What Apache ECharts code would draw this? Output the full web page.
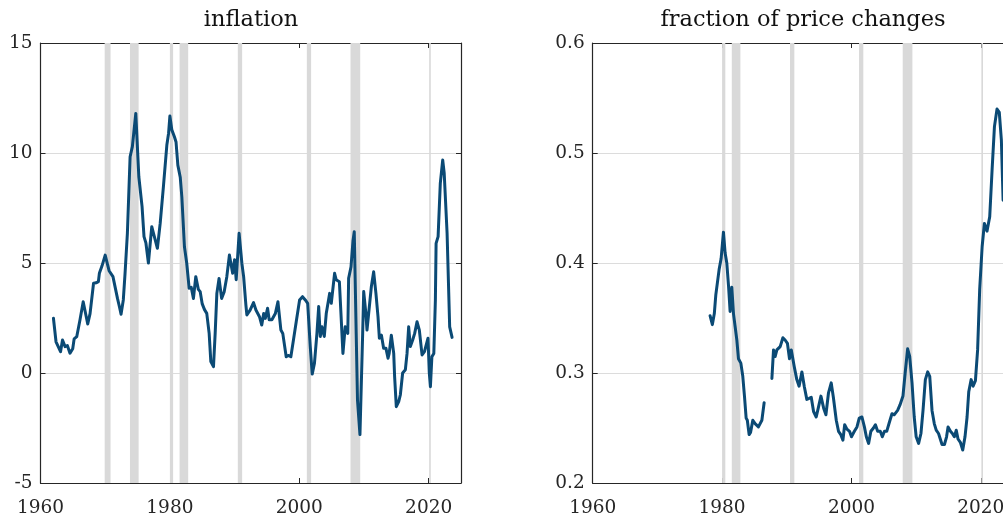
<!DOCTYPE html>
<html>
<head>
<meta charset="utf-8">
<script src="https://cdn.jsdelivr.net/npm/echarts@6/dist/echarts.min.js"></script>
<style>
html,body{margin:0;padding:0;background:#fff;}
#chart{width:1003px;height:515px;}
</style>
</head>
<body>
<div id="chart"></div>
<script>
// ---------- data ----------
const panelTitles = ['inflation', 'fraction of price changes'];
const xTickLabels = ['1960', '1980', '2000', '2020'];

const inflationDates = [1962.0,1962.4,1962.6,1963.1,1963.4,1963.8,1964.15,1964.56,1964.98,1965.2,1965.6,1966.1,1966.6,1966.85,1967.3,1967.66,1968.2,1968.6,1968.95,1969.1,1969.5,1970.0,1970.25,1970.6,1970.9,1971.2,1971.5,1971.9,1972.2,1972.45,1972.8,1973.07,1973.43,1973.85,1974.2,1974.73,1975.2,1975.7,1976.0,1976.3,1976.68,1977.2,1977.6,1978.07,1978.5,1979.0,1979.53,1979.8,1980.0,1980.3,1980.7,1980.95,1981.23,1981.6,1981.85,1982.25,1982.6,1982.98,1983.3,1983.64,1984.0,1984.4,1984.68,1985.0,1985.35,1985.7,1986.07,1986.33,1986.74,1987.0,1987.26,1987.6,1988.0,1988.4,1988.8,1989.2,1989.7,1990.0,1990.25,1990.7,1991.13,1991.4,1991.75,1991.9,1992.4,1992.93,1993.3,1993.85,1994.2,1994.5,1994.75,1995.1,1995.35,1995.77,1996.3,1996.7,1997.16,1997.45,1997.98,1998.3,1998.7,1999.1,1999.53,2000.05,2000.5,2000.93,2001.3,2001.7,2002.0,2002.35,2002.73,2003.0,2003.25,2003.5,2003.87,2004.17,2004.4,2004.7,2004.95,2005.46,2005.7,2005.98,2006.2,2006.75,2007.1,2007.5,2007.63,2008.0,2008.3,2008.5,2008.8,2009.0,2009.38,2009.8,2009.96,2010.3,2010.47,2010.7,2011.14,2011.5,2011.85,2012.17,2012.38,2012.7,2013.04,2013.4,2013.72,2013.9,2014.23,2014.6,2014.74,2015.0,2015.37,2015.62,2015.98,2016.4,2016.66,2016.91,2017.17,2017.53,2017.84,2018.2,2018.56,2018.98,2019.35,2019.6,2019.9,2020.1,2020.27,2020.5,2020.8,2021.04,2021.15,2021.46,2021.8,2022.17,2022.4,2022.85,2023.25,2023.62];
const inflationValues = [2.49,1.42,1.35,0.97,1.5,1.2,1.25,0.9,1.1,1.55,1.65,2.41,3.24,3.24,2.23,2.7,4.08,4.1,4.15,4.53,4.86,5.36,5.06,4.65,4.6,4.38,4.35,3.39,3.01,2.67,3.32,4.53,6.35,9.83,10.29,11.8,8.92,7.56,6.2,5.9,5.0,6.65,6.2,5.67,6.8,8.47,10.36,10.9,11.68,11.05,10.74,10.5,9.45,8.9,8.0,5.74,5.0,3.85,3.9,3.39,4.38,3.8,3.7,3.14,2.88,2.71,1.8,0.52,0.29,1.8,3.62,4.3,3.39,3.7,4.38,5.36,4.53,5.15,4.24,6.35,4.98,4.38,3.09,2.64,2.86,3.2,2.86,2.56,2.18,2.7,2.48,2.94,2.42,2.42,2.7,3.24,1.95,1.8,0.74,0.8,0.74,1.5,2.33,3.32,3.47,3.32,3.17,1.2,-0.05,0.45,1.8,3.02,1.66,2.1,1.66,2.7,2.65,3.62,3.17,4.53,4.24,4.15,4.15,0.89,2.1,1.8,4.3,4.83,6.0,6.42,1.8,-1.23,-2.8,1.8,3.7,2.7,1.95,1.88,3.92,4.6,3.62,2.56,1.58,1.72,1.12,1.12,0.67,0.89,1.72,0.89,-0.17,-1.53,-1.3,-1.0,0.0,0.15,0.89,2.1,1.2,1.5,1.8,2.33,1.95,0.82,0.97,0.89,1.58,0.0,-0.62,0.74,0.89,3.32,5.89,6.2,8.62,9.68,9.1,6.35,2.1,1.62];

const fractionDates = [1978.15,1978.5,1978.8,1979.03,1979.3,1979.54,1979.85,1980.21,1980.47,1980.73,1981.0,1981.24,1981.5,1981.76,1982.02,1982.28,1982.53,1982.9,1983.2,1983.46,1983.72,1983.9,1984.18,1984.4,1984.75,1985.1,1985.62,1985.9,1986.15,1986.5,1987.1,1987.7,1987.95,1988.2,1988.47,1988.7,1988.98,1989.4,1989.74,1990.1,1990.42,1990.7,1991.15,1991.55,1991.9,1992.34,1992.7,1993.1,1993.46,1993.78,1994.14,1994.55,1994.9,1995.28,1995.7,1996.05,1996.45,1996.87,1997.2,1997.65,1998.0,1998.35,1998.68,1998.95,1999.3,1999.7,2000.0,2000.45,2000.85,2001.2,2001.62,2002.0,2002.3,2002.65,2003.0,2003.4,2003.7,2004.05,2004.45,2004.77,2005.1,2005.45,2005.85,2006.26,2006.6,2007.13,2007.5,2007.96,2008.3,2008.68,2009.0,2009.36,2009.7,2010.0,2010.38,2010.74,2011.06,2011.42,2011.78,2012.1,2012.45,2012.8,2013.1,2013.46,2013.72,2014.0,2014.37,2014.7,2014.93,2015.3,2015.6,2015.9,2016.2,2016.47,2016.83,2017.2,2017.55,2017.87,2018.13,2018.5,2018.8,2019.16,2019.5,2019.82,2020.2,2020.55,2020.95,2021.37,2021.74,2022.1,2022.5,2022.85,2023.17,2023.44];
const fractionValues = [0.352,0.344,0.354,0.371,0.370,0.394,0.404,0.428,0.409,0.400,0.379,0.356,0.378,0.354,0.342,0.330,0.313,0.309,0.297,0.279,0.259,0.257,0.244,0.246,0.257,0.254,0.251,0.250,0.257,0.273,null,0.295,0.321,0.315,0.321,0.320,0.324,0.332,0.330,0.327,0.313,0.321,0.306,0.294,0.288,0.301,0.288,0.276,0.277,0.278,0.265,0.260,0.269,0.279,0.268,0.262,0.282,0.291,0.278,0.257,0.247,0.244,0.239,0.253,0.249,0.247,0.242,0.247,0.251,0.259,0.260,0.251,0.242,0.236,0.247,0.250,0.253,0.247,0.247,0.242,0.247,0.247,0.255,0.263,0.262,0.266,0.271,0.279,0.300,0.322,0.315,0.291,0.260,0.242,0.236,0.245,0.266,0.294,0.301,0.297,0.266,0.254,0.248,0.245,0.244,0.235,0.235,0.242,0.251,0.247,0.245,0.242,0.248,0.240,0.237,0.230,0.242,0.260,0.283,0.294,0.288,0.293,0.321,0.376,0.415,0.436,0.429,0.442,0.485,0.524,0.540,0.537,0.512,0.457];

const recessionStarts = [1969.92,1973.83,1980.0,1981.5,1990.5,2001.17,2007.92,2020.08];
const recessionEnds   = [1970.83,1975.17,1980.5,1982.83,1991.17,2001.83,2009.42,2020.33];

// ---------- build ----------
const zip = (a, b) => a.map((v, i) => [v, b[i]]);
const inflationData = zip(inflationDates, inflationValues);
const fractionData = zip(fractionDates, fractionValues);
const bandsAll = zip(recessionStarts, recessionEnds);
const bandsLeft = bandsAll.filter(b => b[0] >= inflationDates[0]);
const bandsRight = bandsAll.filter(b => b[0] >= fractionDates[0]);

const FONT = 'DejaVu Serif';
const TXT = '#262626';
const LINE = '#0b4a75';
const BAND = '#d9d9d9';

function renderBand(params, api) {
  const cs = params.coordSys;
  const p0 = api.coord([api.value(0), api.value(2)]);
  const p1 = api.coord([api.value(1), api.value(2)]);
  return {
    type: 'rect',
    shape: { x: p0[0], y: cs.y, width: Math.max(p1[0] - p0[0], 1), height: cs.height },
    style: { fill: BAND }
  };
}

function xAx(gridIndex, pos) {
  return {
    type: 'value', gridIndex, position: pos, min: 1960, max: 2025, interval: 20,
    axisLine: { show: true, onZero: false, lineStyle: { color: TXT, width: 1.2 } },
    axisTick: { show: true, inside: true, length: 5, lineStyle: { color: TXT, width: 1 } },
    axisLabel: {
      show: pos === 'bottom', fontFamily: FONT, fontSize: 18.5, color: TXT, margin: 16,
      formatter: v => xTickLabels[Math.round((v - 1960) / 20)] || ''
    },
    splitLine: { show: false }
  };
}
function yAx(gridIndex, pos, min, max, interval) {
  return {
    type: 'value', gridIndex, position: pos, min, max, interval,
    axisLine: { show: true, onZero: false, lineStyle: { color: TXT, width: 1.2 } },
    axisTick: { show: true, inside: true, length: 5, lineStyle: { color: TXT, width: 1 } },
    axisLabel: { show: pos === 'left', fontFamily: FONT, fontSize: 18.5, color: TXT, margin: 8 },
    splitLine: { show: pos === 'left', lineStyle: { color: '#dcdcdc', width: 1 } }
  };
}

const titleStyle = { fontFamily: FONT, fontSize: 22.5, fontWeight: 'normal', color: '#111' };

const chart = echarts.init(document.getElementById('chart'), null, { renderer: 'canvas' });
chart.setOption({
  animation: false,
  backgroundColor: '#ffffff',
  title: [
    { text: panelTitles[0], left: 251, top: 9, padding: 0, textAlign: 'center', textStyle: titleStyle },
    { text: panelTitles[1], left: 803, top: 9, padding: 0, textAlign: 'center', textStyle: titleStyle }
  ],
  grid: [
    { left: 40.5, top: 43, width: 420.5, height: 440, containLabel: false, outerBoundsMode: 'none' },
    { left: 592.7, top: 43, width: 420.5, height: 440, containLabel: false, outerBoundsMode: 'none' }
  ],
  xAxis: [xAx(0, 'bottom'), xAx(0, 'top'), xAx(1, 'bottom'), xAx(1, 'top')],
  yAxis: [
    yAx(0, 'left', -5, 15, 5), yAx(0, 'right', -5, 15, 5),
    yAx(1, 'left', 0.2, 0.6, 0.1), yAx(1, 'right', 0.2, 0.6, 0.1)
  ],
  series: [
    { type: 'custom', xAxisIndex: 0, yAxisIndex: 0, z: 1, silent: true,
      renderItem: renderBand, encode: { x: [0, 1] },
      data: bandsLeft.map(b => [b[0], b[1], 5]) },
    { type: 'custom', xAxisIndex: 2, yAxisIndex: 2, z: 1, silent: true,
      renderItem: renderBand, encode: { x: [0, 1] },
      data: bandsRight.map(b => [b[0], b[1], 0.4]) },
    { type: 'line', name: panelTitles[0], xAxisIndex: 0, yAxisIndex: 0, z: 3,
      data: inflationData, showSymbol: false, symbol: 'none',
      lineStyle: { color: LINE, width: 3, join: 'round', cap: 'round' } },
    { type: 'line', name: panelTitles[1], xAxisIndex: 2, yAxisIndex: 2, z: 3,
      data: fractionData, showSymbol: false, symbol: 'none', connectNulls: false,
      lineStyle: { color: LINE, width: 3, join: 'round', cap: 'round' } }
  ]
});
</script>
</body>
</html>
